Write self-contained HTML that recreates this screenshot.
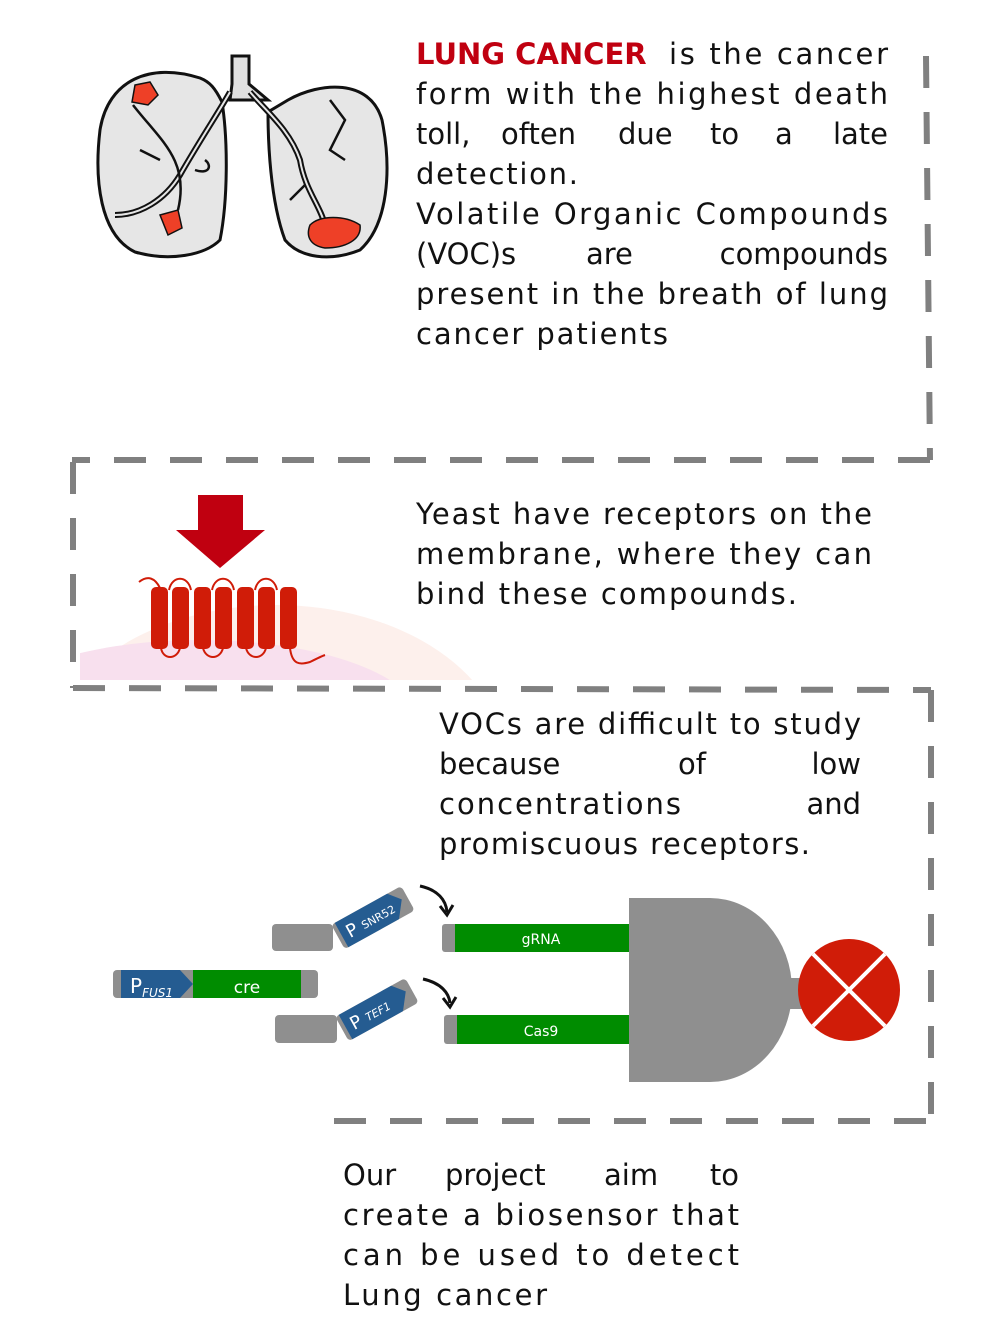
<!DOCTYPE html>
<html><head><meta charset="utf-8"><style>
html,body{margin:0;padding:0;background:#fff;}
svg{display:block;}
text{font-family:"DejaVu Sans","Liberation Sans",sans-serif;}
.t{font-size:29px;fill:#111;font-weight:normal;}
</style></head><body>
<svg width="1008" height="1344" viewBox="0 0 1008 1344">
<g stroke="#808080" stroke-width="6" fill="none" stroke-dasharray="32,24">
  <path d="M926 56 L930 460"/>
  <path d="M930 460 L72 460"/>
  <path d="M73 462 L73 688"/>
  <path d="M73 688 L931 690"/>
  <path d="M931 690 L931 1120"/>
  <path d="M926 1121 L333 1121"/>
</g>

<g stroke="#111" stroke-width="3" fill="#e6e6e6">
  <path d="M232 56 L249 56 L249 84 L268 100 L230 100 L232 84 Z" fill="#e0e0e0"/>
  <path d="M200 78 C150 62 108 80 100 130 C94 180 100 235 135 252 C170 262 205 255 220 240 C228 200 228 140 222 102 C215 88 210 82 200 78 Z"/>
  <path d="M288 100 C320 82 370 78 382 120 C392 170 388 225 360 250 C330 262 300 258 285 240 C270 200 268 140 268 112 Z"/>
  <path d="M230 92 C220 110 200 140 180 175 C165 200 140 215 115 215" fill="none" stroke-width="6"/>
  <path d="M230 92 C220 110 200 140 180 175 C165 200 140 215 115 215" fill="none" stroke="#e6e6e6" stroke-width="2"/>
  <path d="M250 92 C265 110 290 130 300 160 C305 190 320 205 325 225" fill="none" stroke-width="6"/>
  <path d="M250 92 C265 110 290 130 300 160 C305 190 320 205 325 225" fill="none" stroke="#e6e6e6" stroke-width="2"/>
  <path d="M133 105 C160 140 190 160 178 210 M140 150 L160 160 M195 170 C210 175 212 165 205 160 M330 100 L345 120 L330 150 L345 160 M305 185 L290 200" fill="none" stroke-width="2.5"/>
  <path d="M135 85 L150 82 L158 95 L148 105 L132 102 Z M160 215 L178 210 L182 228 L168 235 Z M310 225 C320 215 345 215 360 225 C362 240 345 248 325 248 C312 246 305 238 310 225 Z" fill="#ee4027" stroke-width="1.5"/>
</g>

<g>
  <text x="416" y="64" class="t" style="font-weight:bold;fill:#c00010">LUNG CANCER</text>
  <text x="888" y="64" class="t" text-anchor="end" textLength="219">is the cancer</text>
  <text x="416" y="104" class="t" textLength="472">form with the highest death</text>
  <text x="416" y="144" class="t">toll,</text>
  <text x="501" y="144" class="t">often</text>
  <text x="618" y="144" class="t">due</text>
  <text x="710" y="144" class="t">to</text>
  <text x="775" y="144" class="t">a</text>
  <text x="888" y="144" class="t" text-anchor="end">late</text>
  <text x="416" y="184" class="t" textLength="162">detection.</text>
  <text x="416" y="224" class="t" textLength="472">Volatile Organic Compounds</text>
  <text x="416" y="264" class="t">(VOC)s</text>
  <text x="586" y="264" class="t">are</text>
  <text x="888" y="264" class="t" text-anchor="end">compounds</text>
  <text x="416" y="304" class="t" textLength="472">present in the breath of lung</text>
  <text x="416" y="344" class="t" textLength="252">cancer patients</text>
</g>

<g>
  <defs><clipPath id="memclip"><rect x="80" y="560" width="420" height="120"/></clipPath></defs>
  <g clip-path="url(#memclip)">
    <ellipse cx="276" cy="762" rx="230" ry="157" fill="#fdf0ec"/>
    <ellipse cx="200" cy="721" rx="220" ry="81" fill="#f8e0ee"/>
  </g>
  <path d="M198 495 H243 V530 H265 L220 568 L176 530 H198 Z" fill="#c00010"/>
  <g fill="none" stroke="#d01c08" stroke-width="2">
    <path d="M139 582 C148 575 155 578 160 588"/>
    <path d="M169 590 C172 575 188 575 191 590 M212 590 C215 575 231 575 234 590 M255 590 C258 575 274 575 277 590"/>
    <path d="M161 648 C163 660 177 660 180 648 M203 648 C206 660 220 660 223 648 M246 648 C249 660 263 660 266 648"/>
    <path d="M290 648 C292 665 300 665 310 662 C318 658 322 656 325 655"/>
  </g>
  <g fill="#d01c08">
    <rect x="151" y="587" width="17" height="62" rx="5"/>
    <rect x="172" y="587" width="17" height="62" rx="5"/>
    <rect x="194" y="587" width="17" height="62" rx="5"/>
    <rect x="215" y="587" width="17" height="62" rx="5"/>
    <rect x="237" y="587" width="17" height="62" rx="5"/>
    <rect x="258" y="587" width="17" height="62" rx="5"/>
    <rect x="280" y="587" width="17" height="62" rx="5"/>
  </g>
</g>

<g>
  <text x="416" y="524" class="t" textLength="456">Yeast have receptors on the</text>
  <text x="416" y="564" class="t" textLength="456">membrane, where they can</text>
  <text x="416" y="604" class="t" textLength="381">bind these compounds.</text>
</g>

<g>
  <text x="439" y="734" class="t" textLength="422">VOCs are difficult to study</text>
  <text x="439" y="774" class="t">because</text>
  <text x="678" y="774" class="t">of</text>
  <text x="861" y="774" class="t" text-anchor="end">low</text>
  <text x="439" y="814" class="t" textLength="242">concentrations</text>
  <text x="861" y="814" class="t" text-anchor="end">and</text>
  <text x="439" y="854" class="t" textLength="371">promiscuous receptors.</text>
</g>

<g>
  <rect x="113" y="970" width="205" height="28" rx="4" fill="#8f8f8f"/>
  <path d="M121 970 H180 L193 984 L180 998 H121 Z" fill="#255c91"/>
  <rect x="193" y="970" width="108" height="28" fill="#008c00"/>
  <text x="130" y="993" fill="#fff" font-size="20" font-family="Liberation Sans, sans-serif">P<tspan font-size="12" font-style="italic" dy="4">FUS1</tspan></text>
  <text x="247" y="993" fill="#fff" font-size="17" text-anchor="middle" font-family="Liberation Sans, sans-serif">cre</text>
  <rect x="272" y="924" width="61" height="27" rx="4" fill="#8f8f8f"/>
  <g transform="translate(338,937) rotate(-29)">
    <rect x="0" y="-14" width="80" height="28" rx="4" fill="#8f8f8f"/>
    <path d="M4 -14 H64 L74 -2 L62 14 H4 Z" fill="#255c91"/>
    <text x="10" y="7" fill="#fff" font-size="18" font-family="Liberation Sans, sans-serif">P <tspan font-size="11" dy="-1">SNR52</tspan></text>
  </g>
  <rect x="275" y="1015" width="62" height="28" rx="4" fill="#8f8f8f"/>
  <g transform="translate(342,1029) rotate(-29)">
    <rect x="0" y="-14" width="80" height="28" rx="4" fill="#8f8f8f"/>
    <path d="M4 -14 H64 L74 -2 L62 14 H4 Z" fill="#255c91"/>
    <text x="10" y="7" fill="#fff" font-size="18" font-family="Liberation Sans, sans-serif">P <tspan font-size="11" font-style="italic" dy="-1">TEF1</tspan></text>
  </g>
  <g fill="none" stroke="#111" stroke-width="3">
    <path d="M420 886 C438 890 446 900 447 912"/>
    <path d="M440 906 L447 915 L453 905"/>
    <path d="M423 979 C441 983 449 993 450 1003"/>
    <path d="M443 998 L450 1007 L456 997"/>
  </g>
  <rect x="442" y="924" width="16" height="28" rx="3" fill="#8f8f8f"/>
  <rect x="455" y="924" width="176" height="28" fill="#008c00"/>
  <text x="541" y="944" fill="#fff" font-size="14" text-anchor="middle" font-family="Liberation Sans, sans-serif">gRNA</text>
  <rect x="444" y="1015" width="16" height="29" rx="3" fill="#8f8f8f"/>
  <rect x="457" y="1015" width="173" height="29" fill="#008c00"/>
  <text x="541" y="1036" fill="#fff" font-size="14" text-anchor="middle" font-family="Liberation Sans, sans-serif">Cas9</text>
  <path d="M629 898 H710 A82 92 0 0 1 710 1082 H629 Z" fill="#8f8f8f"/>
  <rect x="785" y="978" width="20" height="31" fill="#8f8f8f"/>
  <circle cx="849" cy="990" r="51" fill="#d01c08"/>
  <path d="M813 954 L885 1026 M885 954 L813 1026" stroke="#fff" stroke-width="4"/>
</g>

<g>
  <text x="343" y="1185" class="t">Our</text>
  <text x="445" y="1185" class="t">project</text>
  <text x="604" y="1185" class="t">aim</text>
  <text x="739" y="1185" class="t" text-anchor="end">to</text>
  <text x="343" y="1225" class="t" textLength="396">create a biosensor that</text>
  <text x="343" y="1265" class="t" textLength="396">can be used to detect</text>
  <text x="343" y="1305" class="t" textLength="204">Lung cancer</text>
</g>
</svg>
</body></html>
